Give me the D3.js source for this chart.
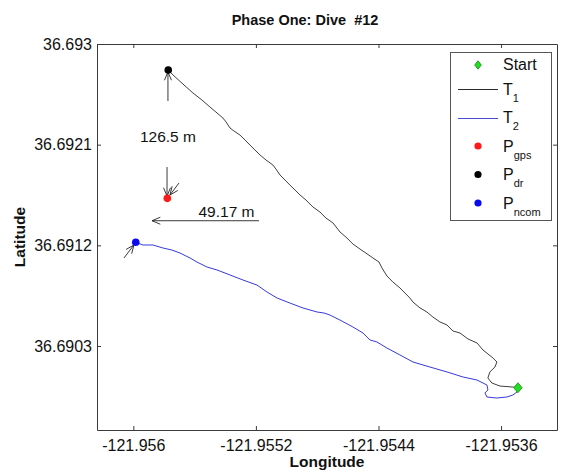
<!DOCTYPE html>
<html>
<head>
<meta charset="utf-8">
<script src="https://cdn.jsdelivr.net/npm/d3@7"></script>
<style>
  body { margin: 0; background: #fff; }
  svg text { font-family: "Liberation Sans", Arial, sans-serif; fill: #111; }
</style>
</head>
<body>
<div id="chart"></div>
<script>
// ticks
const xTicks = [-121.956, -121.9552, -121.9544, -121.9536];
const xTickLabels = ["-121.956", "-121.9552", "-121.9544", "-121.9536"];
const yTicks = [36.6903, 36.6912, 36.6921, 36.693];
const yTickLabels = ["36.6903", "36.6912", "36.6921", "36.693"];
const xDomain = [-121.956237, -121.953235];
const yDomain = [36.689549, 36.693];

// track 1 (start -> P_dr), lon / lat
const t1Lon = [-121.953490, -121.953523, -121.953607, -121.953660, -121.953686, -121.953673, -121.953640, -121.953627,
  -121.953653, -121.953718, -121.953757, -121.953816, -121.953868, -121.953914, -121.953953, -121.953999,
  -121.954045, -121.954084, -121.954129, -121.954175, -121.954195, -121.954260, -121.954306, -121.954345,
  -121.954377, -121.954397, -121.954436, -121.954482, -121.954521, -121.954567, -121.954606, -121.954651,
  -121.954697, -121.954743, -121.954782, -121.954828, -121.954873, -121.954912, -121.954945, -121.954978,
  -121.955010, -121.955043, -121.955069, -121.955089, -121.955134, -121.955173, -121.955206, -121.955239,
  -121.955271, -121.955304, -121.955343, -121.955369, -121.955395, -121.955415, -121.955461, -121.955500,
  -121.955552, -121.955611, -121.955676, -121.955741, -121.955772];
const t1Lat = [36.689927, 36.689933, 36.689942, 36.689969, 36.690014, 36.690068, 36.690112, 36.690157,
  36.690193, 36.690264, 36.690327, 36.690363, 36.690416, 36.690434, 36.690488, 36.690515,
  36.690559, 36.690604, 36.690640, 36.690693, 36.690729, 36.690819, 36.690872, 36.690926,
  36.690997, 36.691051, 36.691087, 36.691131, 36.691167, 36.691212, 36.691266, 36.691319,
  36.691400, 36.691444, 36.691498, 36.691543, 36.691605, 36.691650, 36.691695, 36.691739,
  36.691784, 36.691829, 36.691882, 36.691918, 36.691963, 36.692008, 36.692052, 36.692097,
  36.692142, 36.692186, 36.692222, 36.692249, 36.692303, 36.692338, 36.692392, 36.692437,
  36.692499, 36.692562, 36.692642, 36.692723, 36.692768];

// track 2 (P_ncom -> start)
const t2Lon = [-121.955984, -121.955937, -121.955872, -121.955806, -121.955748, -121.955695, -121.955630, -121.955585,
  -121.955519, -121.955454, -121.955369, -121.955284, -121.955193, -121.955128, -121.955062, -121.954978,
  -121.954893, -121.954801, -121.954756, -121.954717, -121.954651, -121.954567, -121.954501, -121.954456,
  -121.954410, -121.954345, -121.954260, -121.954175, -121.954064, -121.953953, -121.953849, -121.953757,
  -121.953692, -121.953686, -121.953705, -121.953692, -121.953627, -121.953562, -121.953523, -121.953496,
  -121.953490];
const t2Lat = [36.691227, 36.691203, 36.691203, 36.691176, 36.691158, 36.691131, 36.691087, 36.691051,
  36.691006, 36.690980, 36.690935, 36.690890, 36.690845, 36.690783, 36.690729, 36.690684,
  36.690640, 36.690604, 36.690595, 36.690577, 36.690532, 36.690470, 36.690416, 36.690354,
  36.690336, 36.690282, 36.690220, 36.690157, 36.690112, 36.690068, 36.690023, 36.689996,
  36.689951, 36.689907, 36.689880, 36.689844, 36.689835, 36.689844, 36.689862, 36.689889,
  36.689925];

// points
const startPt = [-121.953490, 36.689927];
const pGps = [-121.955778, 36.691620];
const pDr = [-121.955772, 36.692768];
const pNcom = [-121.955984, 36.691227];

// annotation arrows [lon1, lat1, lon2(head), lat2(head)]
const arrows = [
  [-121.955774, 36.692490, -121.955774, 36.692750],
  [-121.955780, 36.691900, -121.955780, 36.691641],
  [-121.955702, 36.691757, -121.955761, 36.691650],
  [-121.955180, 36.691420, -121.955878, 36.691420],
  [-121.956061, 36.691087, -121.955996, 36.691203]
];
const noteTexts = ["126.5 m", "49.17 m"];
const noteLon = [-121.955774, -121.955392];
const noteLat = [36.692124, 36.691453];

const legendNames = [["Start", ""], ["T", "1"], ["T", "2"], ["P", "gps"], ["P", "dr"], ["P", "ncom"]];

const width = 561, height = 474;
const margin = {top: 44, right: 4, bottom: 44, left: 97};

const svg = d3.select("#chart").append("svg")
  .attr("width", width)
  .attr("height", height)
  .style("display", "block");

svg.append("rect").attr("width", width).attr("height", height).attr("fill", "#fff");

const x = d3.scaleLinear().domain(xDomain).range([margin.left, width - margin.right]);
const y = d3.scaleLinear().domain(yDomain).range([height - margin.bottom, margin.top]);

const axisColor = "#3a3a3a";
function styleAxis(g) {
  g.selectAll("path.domain").attr("stroke", axisColor).attr("stroke-width", 1);
  g.selectAll(".tick line").attr("stroke", axisColor);
  g.selectAll(".tick text").attr("font-size", 16).attr("fill", "#111")
    .attr("font-family", "Liberation Sans, Arial, sans-serif");
}

svg.append("g")
  .attr("transform", `translate(0,${height - margin.bottom})`)
  .call(d3.axisBottom(x).tickValues(xTicks).tickSizeInner(-4).tickSizeOuter(0).tickPadding(10)
    .tickFormat((d, i) => xTickLabels[i]))
  .call(styleAxis);

svg.append("g")
  .attr("transform", `translate(0,${margin.top})`)
  .call(d3.axisTop(x).tickValues(xTicks).tickSizeInner(-4).tickSizeOuter(0).tickFormat(""))
  .call(styleAxis);

svg.append("g")
  .attr("transform", `translate(${margin.left},0)`)
  .call(d3.axisLeft(y).tickValues(yTicks).tickSizeInner(-4).tickSizeOuter(0).tickPadding(5)
    .tickFormat((d, i) => yTickLabels[i]))
  .call(styleAxis);

svg.append("g")
  .attr("transform", `translate(${width - margin.right},0)`)
  .call(d3.axisRight(y).tickValues(yTicks).tickSizeInner(-4).tickSizeOuter(0).tickFormat(""))
  .call(styleAxis);

// titles
svg.append("text")
  .attr("x", 305).attr("y", 25)
  .attr("text-anchor", "middle")
  .attr("font-size", 14.5).attr("font-weight", "bold")
  .style("white-space", "pre")
  .text("Phase One: Dive  #12");

svg.append("text")
  .attr("x", (margin.left + width - margin.right) / 2).attr("y", 467)
  .attr("text-anchor", "middle")
  .attr("font-size", 15.5).attr("font-weight", "bold")
  .text("Longitude");

svg.append("text")
  .attr("transform", `translate(25,${(margin.top + height - margin.bottom) / 2}) rotate(-90)`)
  .attr("text-anchor", "middle")
  .attr("font-size", 15.5).attr("font-weight", "bold")
  .text("Latitude");

// tracks
const line = d3.line().x(d => x(d[0])).y(d => y(d[1]));
const t1 = t1Lon.map((v, i) => [v, t1Lat[i]]);
const t2 = t2Lon.map((v, i) => [v, t2Lat[i]]);

svg.append("path").datum(t1)
  .attr("d", line).attr("fill", "none")
  .attr("stroke", "#2a2a2a").attr("stroke-width", 0.9).attr("stroke-linejoin", "round");

svg.append("path").datum(t2)
  .attr("d", line).attr("fill", "none")
  .attr("stroke", "#2323d6").attr("stroke-width", 0.9).attr("stroke-linejoin", "round");

// arrows
const arrowG = svg.append("g").attr("stroke", "#222").attr("stroke-width", 0.9).attr("fill", "none");
arrows.forEach(a => {
  const x1 = x(a[0]), y1 = y(a[1]), x2 = x(a[2]), y2 = y(a[3]);
  const ang = Math.atan2(y2 - y1, x2 - x1);
  const L = 9, spread = 0.4;
  const hx1 = x2 - L * Math.cos(ang - spread), hy1 = y2 - L * Math.sin(ang - spread);
  const hx2 = x2 - L * Math.cos(ang + spread), hy2 = y2 - L * Math.sin(ang + spread);
  arrowG.append("path")
    .attr("d", `M${x1},${y1}L${x2},${y2}M${hx1},${hy1}L${x2},${y2}L${hx2},${hy2}`);
});

noteTexts.forEach((t, i) => {
  svg.append("text")
    .attr("x", x(noteLon[i])).attr("y", y(noteLat[i]))
    .attr("text-anchor", "middle")
    .attr("font-size", 15.5)
    .text(t);
});

// points
function diamond(g, cx, cy, w, h) {
  g.append("path")
    .attr("d", `M${cx},${cy - h}L${cx + w},${cy}L${cx},${cy + h}L${cx - w},${cy}Z`)
    .attr("fill", "#22dd22").attr("stroke", "#128a12").attr("stroke-width", 0.8);
}
diamond(svg, x(startPt[0]), y(startPt[1]), 4.2, 5);

[[pGps, "#ff1a1a"], [pDr, "#000"], [pNcom, "#0a0aee"]].forEach(p => {
  svg.append("circle")
    .attr("cx", x(p[0][0])).attr("cy", y(p[0][1]))
    .attr("r", 3.8).attr("fill", p[1]);
});

// legend
const legend = svg.append("g");
legend.append("rect")
  .attr("x", 450.5).attr("y", 52.5).attr("width", 101).attr("height", 168)
  .attr("fill", "#fff").attr("stroke", "#555").attr("stroke-width", 1);

legendNames.forEach((n, i) => {
  const ry = i === 0 ? 65 : 89 + (i - 1) * 28.5;
  if (i === 0) diamond(legend, 478, ry, 3.3, 4.2);
  else if (i === 1 || i === 2) {
    const ly = Math.round(ry) + 0.5;
    legend.append("line").attr("x1", 458).attr("x2", 498).attr("y1", ly).attr("y2", ly)
      .attr("stroke", i === 1 ? "#2a2a2a" : "#4a4ad2").attr("stroke-width", 1);
  } else {
    legend.append("circle").attr("cx", 478).attr("cy", ry).attr("r", 3.6)
      .attr("fill", ["#ff1a1a", "#000", "#0a0aee"][i - 3]);
  }
  const t = legend.append("text").attr("x", 503).attr("y", ry + (i === 0 ? 5 : 5.5))
    .attr("font-size", 16);
  t.append("tspan").text(n[0]);
  if (n[1]) t.append("tspan").attr("dy", 7).attr("font-size", 11).text(n[1]);
});
</script>
</body>
</html>
